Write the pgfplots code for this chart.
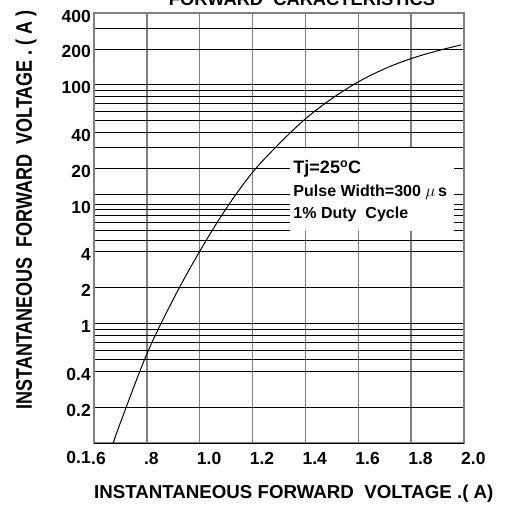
\documentclass[border=0pt]{standalone}
\usepackage{pgfplots}
\pgfplotsset{compat=1.18}
\usepackage{fontspec}
\setmainfont{Liberation Sans}
\usepackage{graphicx}
\newcommand\lab{\fontsize{18.7bp}{22bp}\selectfont\bfseries}
\newcommand\boxt{\fontsize{16bp}{19bp}\selectfont\bfseries}
\begin{document}
\begin{tikzpicture}
\useasboundingbox (-94bp,-63bp) rectangle (419bp,443bp);
\begin{axis}[
 at={(0,0)}, anchor=south west,
 scale only axis, width=370bp, height=430bp,
 xmin=0.6, xmax=2.0, ymode=log, ymin=0.1, ymax=400,
 xtick={0.6,0.8,1.0,1.2,1.4,1.6,1.8,2.0},
 xticklabels={.6,.8,1.0,1.2,1.4,1.6,1.8,2.0},
 ytick={0.2,0.4,1,2,4,10,20,40,100,200,400},
 yticklabels={0.2,0.4,1,2,4,10,20,40,100,200,400},
 minor ytick={0.5,0.6,0.7,0.8,0.9,5,6,7,8,9,12,30,50,60,70,80,90,300},
 extra y ticks={0.1}, extra y tick labels={0.1},
 extra y tick style={yticklabel style={yshift=-11bp}},
 xmajorgrids, ymajorgrids, yminorgrids,
 major tick length=0pt, minor tick length=0pt,
 x grid style={draw=black!50, line width=1.3bp},
 y grid style={draw=black, line width=0.8bp},
 axis line style={draw=black!50, line width=1.3bp},
 tick label style={font=\fontsize{17.5bp}{20bp}\selectfont\bfseries, inner sep=0pt},
 /pgf/number format/assume math mode=true,
 xticklabel style={anchor=north west, xshift=-3bp, yshift=-9bp},
 yticklabel style={anchor=east, xshift=-3bp, yshift=-3bp},
 clip=false,
]
\addplot[black, line width=1bp, smooth, tension=0.6] coordinates {
 (0.673,0.1) (0.70,0.148) (0.80,0.556) (0.90,1.60) (1.00,4.03)
 (1.10,9.2) (1.20,18.5) (1.30,32.0) (1.40,51.9) (1.50,76.7)
 (1.60,105.9) (1.70,136.5) (1.80,166) (1.90,193) (1.989,216)
};
\fill[white] (rel axis cs:0.5297,0.4930) rectangle (rel axis cs:0.9730,0.6860);
\node[anchor=base west, inner sep=0pt, font=\fontsize{18bp}{21bp}\selectfont\bfseries] at (rel axis cs:0.5386,0.6272) {Tj=25\textsuperscript{o}C};
\node[anchor=base west, inner sep=0pt, font=\boxt] at (rel axis cs:0.5386,0.5744) {Pulse\ Width=300\ $\mu$\,s};
\node[anchor=base west, inner sep=0pt, font=\boxt] at (rel axis cs:0.5386,0.5226) {1\%\ Duty\ \ Cycle};
\node[anchor=base, inner sep=0pt, font=\fontsize{18.3bp}{22bp}\selectfont\bfseries] at (rel axis cs:0.5622,1) [yshift=7bp] {FORWARD\ \ CARACTERISTICS};
\node[anchor=base west, inner sep=0pt, font=\lab] at (rel axis cs:0,0) [yshift=-55bp] {INSTANTANEOUS\ FORWARD\ \ VOLTAGE\ .(\ A)};
\node[xshift=-62bp, anchor=base, inner sep=0pt, rotate=90, font=\fontsize{18bp}{22bp}\selectfont\bfseries] at (rel axis cs:0,0.542) {\scalebox{1}[1.25]{INSTANTANEOUS\ \ FORWARD\ \ VOLTAGE\ .\ (\ A\ )}};
\end{axis}
\end{tikzpicture}
\end{document}
